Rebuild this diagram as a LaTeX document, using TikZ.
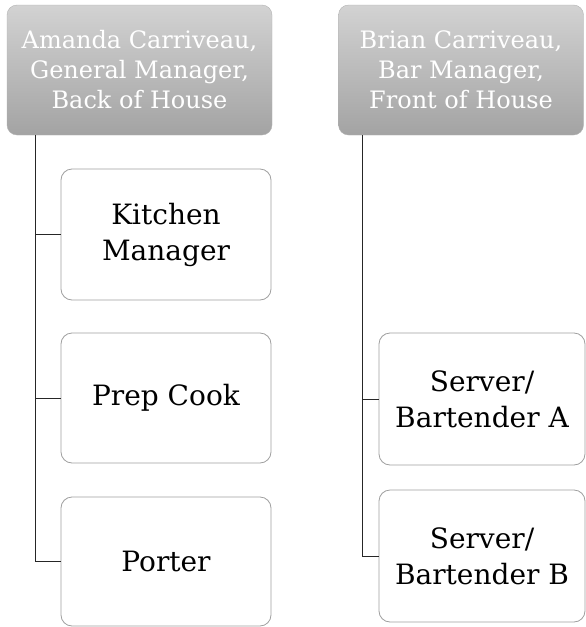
\documentclass[tikz,border=0pt]{standalone}
\usepackage{fontspec}
\setmainfont{DejaVu Serif}
\usetikzlibrary{positioning}
\begin{document}
\begin{tikzpicture}[x=1pt,y=-1pt,
  headbox/.style={rectangle, rounded corners=10pt, draw=gray!60, top color=gray!35, bottom color=gray!72,
    text=white, align=center, inner sep=0pt, font=\fontsize{24}{30}\selectfont},
  childbox/.style={rectangle, rounded corners=11pt, draw=gray!75, line width=0.8pt, fill=white,
    align=center, inner sep=0pt, font=\fontsize{28}{36}\selectfont},
  link/.style={draw=black!85, line width=0.9pt}]
\useasboundingbox (0,0) rectangle (586,627);
% headers
\node[headbox, minimum width=265pt, minimum height=130pt] (lh) at (139.5,70) {Amanda Carriveau,\\General Manager,\\Back of House};
\node[headbox, minimum width=245pt, minimum height=130pt] (rh) at (461,70) {Brian Carriveau,\\Bar Manager,\\Front of House};
% left children
\node[childbox, minimum width=210pt, minimum height=131pt] (km) at (166,234.5) {Kitchen\\Manager};
\node[childbox, minimum width=210pt, minimum height=130pt] (pc) at (166,398) {Prep Cook};
\node[childbox, minimum width=210pt, minimum height=129pt] (po) at (166,561.5) {Porter};
% right children
\node[childbox, minimum width=206pt, minimum height=132pt] (sa) at (482,399) {Server/\\Bartender A};
\node[childbox, minimum width=206pt, minimum height=132pt] (sb) at (482,556) {Server/\\Bartender B};
% connectors
\coordinate (lt) at (35,135);
\coordinate (rt) at (362,135);
\draw[link] (lt) |- (km.west);
\draw[link] (lt) |- (pc.west);
\draw[link] (lt) |- (po.west);
\draw[link] (rt) |- (sa.west);
\draw[link] (rt) |- (sb.west);
\end{tikzpicture}
\end{document}
